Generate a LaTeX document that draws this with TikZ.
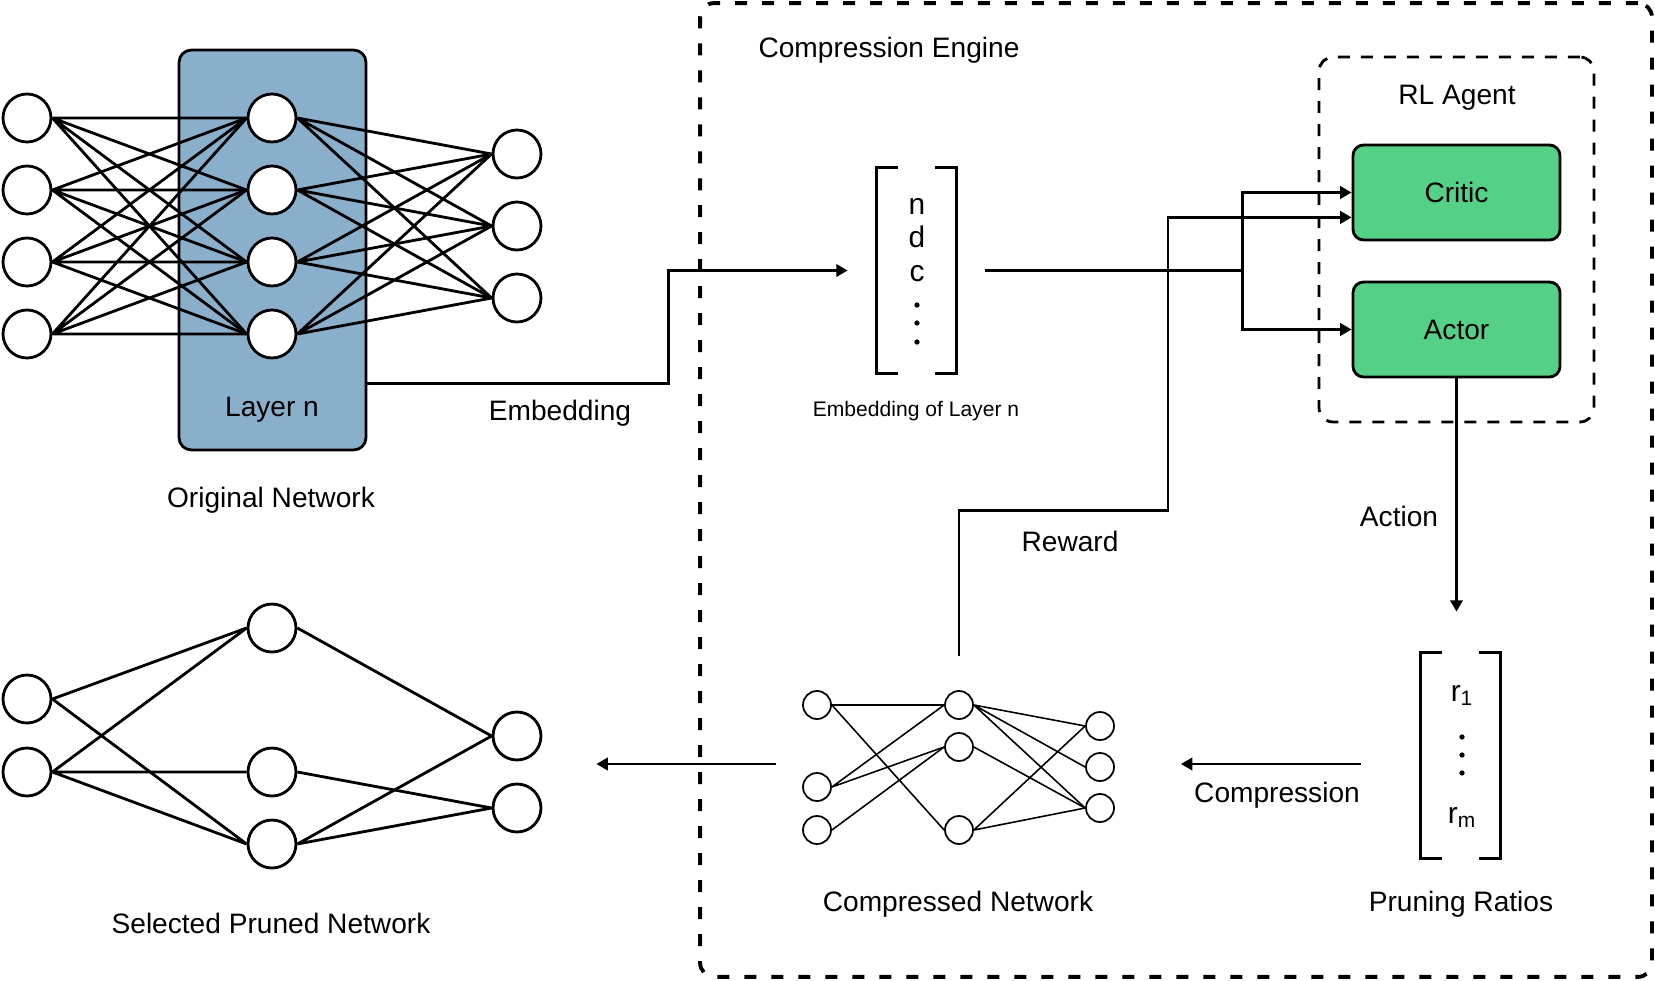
\documentclass[tikz,border=0pt]{standalone}
\usepackage{fontspec}
\setmainfont{Liberation Sans}
\usetikzlibrary{arrows.meta}

\definecolor{layerblue}{HTML}{8AAFCB}
\definecolor{agentgreen}{HTML}{55D187}

\begin{document}
\begin{tikzpicture}[x=0.02cm, y=-0.02cm, >={Triangle[length=6.5pt,width=7pt]},
  neuron/.style={circle, draw, line width=1.6pt, fill=white, minimum size=0.96cm, inner sep=0pt},
  tinyneuron/.style={circle, draw, line width=1pt, fill=white, minimum size=0.56cm, inner sep=0pt},
  conn/.style={line width=1.6pt},
  thinconn/.style={line width=0.9pt},
  txt/.style={font=\fontsize{16}{19}\selectfont, yshift=-0.06cm},
  smalltxt/.style={font=\fontsize{12}{14}\selectfont, yshift=-0.04cm},
  vecletter/.style={font=\fontsize{17}{20}\selectfont, inner sep=0pt},
  vecbox/.style={minimum width=1.58cm, minimum height=4.1cm, inner sep=0pt},
  bracket/.style={line width=1.6pt},
  agentbox/.style={draw, fill=agentgreen, rounded corners=6pt, line width=1.6pt, minimum width=4.14cm, minimum height=1.9cm, font=\fontsize{16}{19}\selectfont}]
  \useasboundingbox (0,0) rectangle (1655,980);

  % frames
  \node (engine) [draw, dash pattern=on 0.24cm off 0.3cm, line width=2.2pt, rounded corners=8pt, minimum width=19.04cm, minimum height=19.48cm] at (1176,490) {};
  \node (agent) [draw, dash pattern=on 0.24cm off 0.22cm, line width=1.6pt, rounded corners=8pt, minimum width=5.5cm, minimum height=7.3cm] at (1456.5,239.5) {};
  \node (layerbox) [draw, fill=layerblue, rounded corners=7pt, line width=1.6pt, minimum width=3.74cm, minimum height=8cm] at (272.5,250) {};

  % original network
  \node (oA1) [neuron] at (27,118) {};
  \node (oA2) [neuron] at (27,190) {};
  \node (oA3) [neuron] at (27,262) {};
  \node (oA4) [neuron] at (27,334) {};
  \node (oB1) [neuron] at (272,118) {};
  \node (oB2) [neuron] at (272,190) {};
  \node (oB3) [neuron] at (272,262) {};
  \node (oB4) [neuron] at (272,334) {};
  \node (oC1) [neuron] at (517,154) {};
  \node (oC2) [neuron] at (517,226) {};
  \node (oC3) [neuron] at (517,298) {};
  \draw [conn] (oA1.east) -- (oB1.west) (oA1.east) -- (oB2.west) (oA1.east) -- (oB3.west) (oA1.east) -- (oB4.west);
  \draw [conn] (oA2.east) -- (oB1.west) (oA2.east) -- (oB2.west) (oA2.east) -- (oB3.west) (oA2.east) -- (oB4.west);
  \draw [conn] (oA3.east) -- (oB1.west) (oA3.east) -- (oB2.west) (oA3.east) -- (oB3.west) (oA3.east) -- (oB4.west);
  \draw [conn] (oA4.east) -- (oB1.west) (oA4.east) -- (oB2.west) (oA4.east) -- (oB3.west) (oA4.east) -- (oB4.west);
  \draw [conn] (oB1.east) -- (oC1.west) (oB1.east) -- (oC2.west) (oB1.east) -- (oC3.west);
  \draw [conn] (oB2.east) -- (oC1.west) (oB2.east) -- (oC2.west) (oB2.east) -- (oC3.west);
  \draw [conn] (oB3.east) -- (oC1.west) (oB3.east) -- (oC2.west) (oB3.east) -- (oC3.west);
  \draw [conn] (oB4.east) -- (oC1.west) (oB4.east) -- (oC2.west) (oB4.east) -- (oC3.west);
  \node (layerlbl) [txt] at (272,407) {Layer n};
  \node (origlbl) [txt] at (271,497) {Original Network};

  % selected pruned network
  \node (pA1) [neuron] at (27,699) {};
  \node (pA2) [neuron] at (27,772) {};
  \node (pB1) [neuron] at (272,628) {};
  \node (pB2) [neuron] at (272,772) {};
  \node (pB3) [neuron] at (272,844) {};
  \node (pC1) [neuron] at (517,736) {};
  \node (pC2) [neuron] at (517,808) {};
  \draw [conn] (pA1.east) -- (pB1.west) (pA1.east) -- (pB3.west);
  \draw [conn] (pA2.east) -- (pB1.west) (pA2.east) -- (pB2.west) (pA2.east) -- (pB3.west);
  \draw [conn] (pB1.east) -- (pC1.west) (pB2.east) -- (pC2.west);
  \draw [conn] (pB3.east) -- (pC1.west) (pB3.east) -- (pC2.west);
  \node (prunedlbl) [txt] at (271,920) {Selected Pruned Network};

  % compressed network
  \node (cA1) [tinyneuron] at (817,705) {};
  \node (cA2) [tinyneuron] at (817,787) {};
  \node (cA3) [tinyneuron] at (817,830) {};
  \node (cB1) [tinyneuron] at (959,705) {};
  \node (cB2) [tinyneuron] at (959,747) {};
  \node (cB3) [tinyneuron] at (959,830) {};
  \node (cC1) [tinyneuron] at (1100,726) {};
  \node (cC2) [tinyneuron] at (1100,767) {};
  \node (cC3) [tinyneuron] at (1100,808) {};
  \draw [thinconn] (cA1.east) -- (cB1.west) (cA1.east) -- (cB3.west);
  \draw [thinconn] (cA2.east) -- (cB1.west) (cA2.east) -- (cB2.west);
  \draw [thinconn] (cA3.east) -- (cB2.west);
  \draw [thinconn] (cB1.east) -- (cC1.west) (cB1.east) -- (cC2.west) (cB1.east) -- (cC3.west);
  \draw [thinconn] (cB2.east) -- (cC3.west);
  \draw [thinconn] (cB3.east) -- (cC1.west) (cB3.east) -- (cC3.west);
  \node (complbl) [txt] at (958,901) {Compressed Network};

  % embedding vector
  \node (embvec) [vecbox] at (916.5,270.5) {};
  \draw [bracket] ([xshift=0.42cm]embvec.north west) -- (embvec.north west) -- (embvec.south west) -- ([xshift=0.42cm]embvec.south west);
  \draw [bracket] ([xshift=-0.42cm]embvec.north east) -- (embvec.north east) -- (embvec.south east) -- ([xshift=-0.42cm]embvec.south east);
  \node (embn) [vecletter, anchor=base] at (917,214) {n};
  \node (embd) [vecletter, anchor=base] at (917,247) {d};
  \node (embc) [vecletter, anchor=base] at (917,281) {c};
  \fill (917,305) circle (1.5pt);
  \fill (917,323) circle (1.5pt);
  \fill (917,342) circle (1.5pt);
  \node (emblbl) [smalltxt] at (916,409) {Embedding of Layer n};

  % pruning ratios vector
  \node (prvec) [vecbox] at (1460.5,755.5) {};
  \draw [bracket] ([xshift=0.42cm]prvec.north west) -- (prvec.north west) -- (prvec.south west) -- ([xshift=0.42cm]prvec.south west);
  \draw [bracket] ([xshift=-0.42cm]prvec.north east) -- (prvec.north east) -- (prvec.south east) -- ([xshift=-0.42cm]prvec.south east);
  \node (prr1) [vecletter, anchor=base] at (1462,701) {r\textsubscript{1}};
  \fill (1462,737) circle (1.5pt);
  \fill (1462,755) circle (1.5pt);
  \fill (1462,773) circle (1.5pt);
  \node (prrm) [vecletter, anchor=base] at (1462,823) {r\textsubscript{m}};
  \node (prlbl) [txt] at (1461,901) {Pruning Ratios};

  % rl agent
  \node (critic) [agentbox] at (1456.5,192.5) {Critic};
  \node (actor) [agentbox] at (1456.5,329.5) {Actor};
  \node (agentlbl) [txt] at (1457,95) {RL Agent};
  \node (enginelbl) [txt] at (889,47) {Compression Engine};

  % connectors
  \draw [conn,->,shorten >=0.58cm] ([yshift=1.36cm]layerbox.south east) -- ++(301,0) |- (embvec.west);
  \node (embedlbl) [txt] at (560,410) {Embedding};
  \draw [conn] ([xshift=0.58cm]embvec.east) -- ++(257,0) coordinate (fork);
  \draw [conn,->] (fork) |- (critic.west);
  \draw [conn,->] (fork) |- (actor.west);
  \draw [conn,->] ([yshift=0.68cm]cB1.north) |- ++(209,-146) |- ([yshift=0.48cm]critic.south west);
  \node (rewardlbl) [txt] at (1070,538) {Reward};
  \draw [conn,->,shorten >=0.82cm] (actor.south) -- (actor.south |- prvec.north);
  \node (actionlbl) [txt] at (1399,513) {Action};
  \coordinate (cmpstart) at ([yshift=-0.17cm]prvec.west);
  \draw [conn,->,shorten <=1.2cm,shorten >=1.32cm] (cmpstart) -- (cmpstart -| cC2.east);
  \node (cmplbl) [txt] at (1277,792) {Compression};
  \coordinate (outstart) at ([yshift=0.46cm]cA2.west);
  \draw [conn,->,shorten <=0.53cm,shorten >=1.08cm] (outstart) -- (outstart -| pC1.east);
\end{tikzpicture}
\end{document}
